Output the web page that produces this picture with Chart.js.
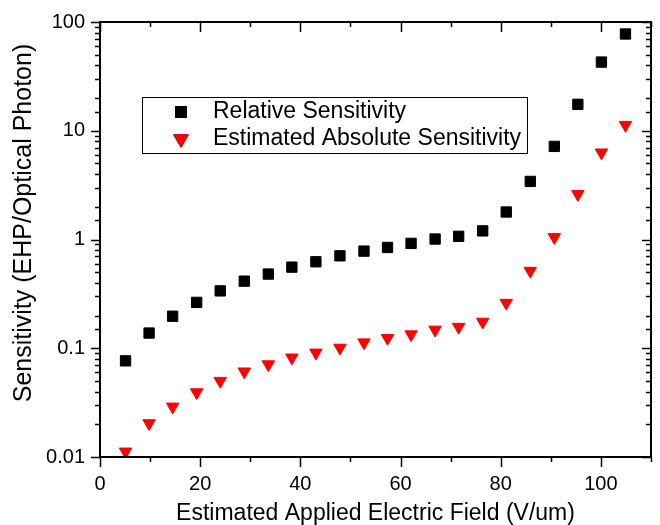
<!DOCTYPE html>
<html>
<head>
<meta charset="utf-8">
<script src="https://cdn.jsdelivr.net/npm/chart.js@4"></script>
<style>
  html, body { margin: 0; padding: 0; background: #fff; }
  canvas { display: block; }
</style>
</head>
<body>
<canvas id="sensChart" width="660" height="525"></canvas>
<script>
// Sensitivity vs applied field
const fieldValues = [5.1, 9.8, 14.5, 19.3, 24.0, 28.8, 33.6, 38.3, 43.1, 47.9, 52.7,
                     57.4, 62.1, 66.9, 71.6, 76.4, 81.1, 85.9, 90.7, 95.4, 100.1, 104.9];
const relativeSens = [0.0766, 0.138, 0.197, 0.264, 0.337, 0.414, 0.481, 0.557, 0.624, 0.708, 0.782,
                      0.845, 0.921, 1.01, 1.07, 1.20, 1.79, 3.42, 7.18, 17.5, 42.8, 77.6];
const absoluteSens = [0.0112, 0.0204, 0.029, 0.0393, 0.050, 0.061, 0.071, 0.082, 0.091, 0.101, 0.113,
                      0.124, 0.134, 0.148, 0.157, 0.175, 0.261, 0.514, 1.05, 2.61, 6.3, 11.3];
const xTickLabels = ['0', '20', '40', '60', '80', '100'];
const yTickLabels = ['0.01', '0.1', '1', '10', '100'];
const yTitle = 'Sensitivity (EHP/Optical Photon)';

const FONT = 'Liberation Sans, Arial, sans-serif';

function toPoints(ys) {
    return fieldValues.map((x, i) => ({ x: x, y: ys[i] }));
}

// frame with inward ticks on top/right, outward on left/bottom
const framePlugin = {
    id: 'frame',
    afterDatasetsDraw(chart) {
        const ctx = chart.ctx;
        const area = chart.chartArea;
        const xs = chart.scales.x;
        const ys = chart.scales.y;
        ctx.save();
        ctx.strokeStyle = '#000';
        ctx.lineWidth = 2;
        ctx.strokeRect(area.left, area.top, area.right - area.left, area.bottom - area.top);

        ctx.lineWidth = 1.5;
        ctx.beginPath();
        xs.ticks.forEach(t => {
            const px = Math.round(xs.getPixelForValue(t.value)) + 0.5;
            const major = Math.round(t.value) % 20 === 0;
            const len = major ? 10 : 5;
            ctx.moveTo(px, area.bottom);
            ctx.lineTo(px, area.bottom + len);
            ctx.moveTo(px, area.top);
            ctx.lineTo(px, area.top + len);
        });
        ys.ticks.forEach(t => {
            const py = Math.round(ys.getPixelForValue(t.value)) + 0.5;
            const e = Math.log10(t.value);
            const major = Math.abs(e - Math.round(e)) < 1e-6;
            const len = major ? 9 : 5;
            ctx.moveTo(area.left - len, py);
            ctx.lineTo(area.left, py);
            ctx.moveTo(area.right - len, py);
            ctx.lineTo(area.right, py);
        });
        ctx.stroke();
        ctx.restore();
    }
};

// y title sits a little above the middle of the axis in the original
const yTitlePlugin = {
    id: 'yTitle',
    afterDraw(chart) {
        const ctx = chart.ctx;
        ctx.save();
        ctx.translate(24, 223);
        ctx.rotate(-Math.PI / 2);
        ctx.font = '25px ' + FONT;
        ctx.fillStyle = '#000';
        ctx.textAlign = 'center';
        ctx.textBaseline = 'middle';
        ctx.fillText(yTitle, 0, 0);
        ctx.restore();
    }
};

// boxed legend inside the plot
const boxLegendPlugin = {
    id: 'boxLegend',
    afterDraw(chart) {
        const ctx = chart.ctx;
        const box = { left: 142, top: 97, right: 527, bottom: 153 };
        ctx.save();
        ctx.strokeStyle = '#000';
        ctx.lineWidth = 1;
        ctx.strokeRect(box.left + 0.5, box.top + 0.5, box.right - box.left, box.bottom - box.top);
        ctx.font = '23px ' + FONT;
        ctx.textBaseline = 'middle';
        chart.data.datasets.forEach((ds, i) => {
            const y = box.top + 15 + i * 27;
            Chart.helpers.drawPoint(ctx, {
                pointStyle: ds.pointStyle,
                radius: ds.pointStyle === 'triangle' ? 8.3 : ds.pointRadius + 0.5,
                rotation: ds.rotation || 0,
                borderWidth: ds.borderWidth
            }, 181, y);
            ctx.fillStyle = ds.backgroundColor;
            ctx.strokeStyle = ds.borderColor;
            ctx.lineWidth = ds.borderWidth;
            ctx.fill();
            ctx.stroke();
            ctx.fillStyle = '#000';
            ctx.fillText(ds.label, 213, y);
        });
        ctx.restore();
    }
};

const ctx = document.getElementById('sensChart');

new Chart(ctx, {
    type: 'scatter',
    data: {
        datasets: [{
            label: 'Relative Sensitivity',
            data: toPoints(relativeSens),
            pointStyle: 'rect',
            pointRadius: 7.3,
            backgroundColor: '#000000',
            borderColor: '#000000',
            borderWidth: 1
        }, {
            label: 'Estimated Absolute Sensitivity',
            data: toPoints(absoluteSens),
            pointStyle: 'triangle',
            rotation: 180,
            pointRadius: 7.2,
            backgroundColor: '#ff0000',
            borderColor: '#ff0000',
            borderWidth: 1
        }]
    },
    options: {
        responsive: false,
        animation: false,
        events: [],
        layout: {
            padding: { left: 0, right: 9, top: 22, bottom: 0 }
        },
        plugins: {
            legend: { display: false },
            tooltip: { enabled: false }
        },
        scales: {
            x: {
                type: 'linear',
                min: 0,
                max: 110,
                afterFit: function(scale) {
                    scale.height = 68;
                    scale.paddingLeft = 0;
                    scale.paddingRight = 0;
                },
                grid: { display: false, drawTicks: false },
                border: { display: false },
                ticks: {
                    stepSize: 10,
                    autoSkip: false,
                    maxRotation: 0,
                    padding: 15,
                    color: '#000',
                    font: { family: FONT, size: 20 },
                    callback: function(value) {
                        const v = Math.round(value);
                        return v % 20 === 0 ? (xTickLabels[v / 20] || '') : '';
                    }
                },
                title: {
                    display: true,
                    text: 'Estimated Applied Electric Field (V/um)',
                    color: '#000',
                    font: { family: FONT, size: 23 },
                    padding: { top: 0, bottom: -2 }
                }
            },
            y: {
                type: 'logarithmic',
                min: 0.01,
                max: 100,
                afterFit: function(scale) {
                    scale.width = 100;
                    scale.paddingTop = 0;
                    scale.paddingBottom = 0;
                },
                grid: { display: false, drawTicks: false },
                border: { display: false },
                ticks: {
                    autoSkip: false,
                    padding: 15,
                    color: '#000',
                    font: { family: FONT, size: 20 },
                    callback: function(value) {
                        const e = Math.log10(value);
                        if (Math.abs(e - Math.round(e)) < 1e-6) {
                            return yTickLabels[Math.round(e) + 2] || '';
                        }
                        return '';
                    }
                },
                title: { display: false }
            }
        }
    },
    plugins: [framePlugin, yTitlePlugin, boxLegendPlugin]
});
</script>
</body>
</html>
